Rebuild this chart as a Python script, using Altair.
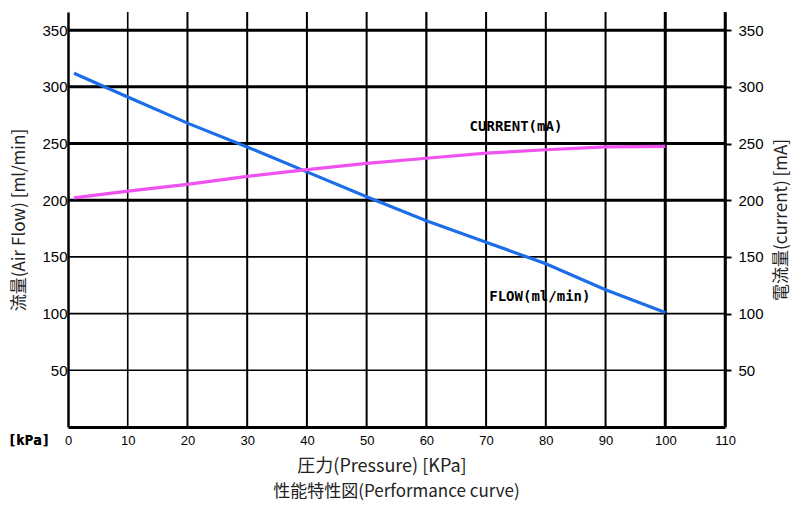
import altair as alt
import pandas as pd

# ---- data ----
pressure = [1, 10, 20, 30, 40, 50, 60, 70, 80, 90, 100]
flow = [312, 291, 268, 247, 225, 203, 182, 163, 144, 121, 101]
current = [202, 208, 214, 221, 227, 232.5, 237, 241.5, 244.5, 247, 247.5]

y_ticks = [50, 100, 150, 200, 250, 300, 350]
y_grid_w = [1.6, 1.6, 1.6, 3, 3, 3, 3]
x_ticks = [0, 10, 20, 30, 40, 50, 60, 70, 80, 90, 100, 110]
x_grid = [10, 20, 30, 40, 50, 60, 70, 80, 90, 100, 110]
x_grid_w = [1.6, 2, 2, 2, 2, 2.2, 2, 2, 2, 3, 2.5]

labels = ["CURRENT(mA)", "FLOW(ml/min)"]
label_x = [75, 79]
label_y = [265, 115]

W, H = 657, 415
YMAX = 366
CJK = "Noto Sans CJK JP"

xs = alt.Scale(domain=[0, 110], nice=False, zero=False)
ys = alt.Scale(domain=[0, YMAX], nice=False, zero=False)

df = pd.DataFrame({"p": pressure * 2,
                   "v": flow + current,
                   "s": ["flow"] * len(pressure) + ["current"] * len(pressure)})
hgrid = pd.DataFrame({"y": y_ticks, "w": y_grid_w})
vgrid = pd.DataFrame({"x": x_grid, "w": x_grid_w})
lab = pd.DataFrame({"t": labels, "x": label_x, "y": label_y})

left_axis = alt.Axis(values=y_ticks, grid=False, ticks=False, labelPadding=1,
                     labelFont="Liberation Sans", labelFontSize=15, labelColor="#000",
                     domainColor="#000", domainWidth=2.5,
                     title="流量(Air Flow) [ml/min]", titleFont=CJK, titleFontSize=17,
                     titleFontWeight="normal", titleColor="#222", titlePadding=13)
right_axis = alt.Axis(orient="right", values=y_ticks, grid=False, ticks=True, tickSize=6,
                      tickColor="#000", tickWidth=2, labelPadding=7,
                      labelFont="Liberation Sans", labelFontSize=15, labelColor="#000",
                      domainColor="#000", domainWidth=2.5,
                      title="電流量(current) [mA]", titleFont=CJK, titleFontSize=17,
                      titleFontWeight="normal", titleColor="#222", titlePadding=27,
                      titleAngle=270)
x_axis = alt.Axis(values=x_ticks, grid=False, ticks=False, labelPadding=7,
                  labelFont="Liberation Sans", labelFontSize=13, labelColor="#000",
                  domainColor="#000", domainWidth=3, labelFlush=False,
                  title="圧力(Pressure) [KPa]", titleFont=CJK, titleFontSize=18,
                  titleFontWeight="normal", titleColor="#222", titlePadding=10,
                  titleX=W / 2 - 15)

hrules = alt.Chart(hgrid).mark_rule(color="#000").encode(
    y=alt.Y("y:Q", scale=ys, axis=left_axis),
    x=alt.value(0), x2=alt.value(W),
    strokeWidth=alt.StrokeWidth("w:Q", scale=None),
)
vrules = alt.Chart(vgrid).mark_rule(color="#000").encode(
    x=alt.X("x:Q", scale=xs, axis=x_axis),
    y=alt.value(0), y2=alt.value(H),
    strokeWidth=alt.StrokeWidth("w:Q", scale=None),
)
lines = alt.Chart(df).mark_line(strokeWidth=3.2).encode(
    x=alt.X("p:Q", scale=xs),
    y=alt.Y("v:Q", scale=ys),
    color=alt.Color("s:N", scale=alt.Scale(domain=["flow", "current"],
                                           range=["#1c6ee8", "#f052f0"]), legend=None),
)
texts = alt.Chart(lab).mark_text(font="DejaVu Sans Mono", fontWeight="bold",
                                 fontSize=14, color="#000").encode(
    x=alt.X("x:Q", scale=xs), y=alt.Y("y:Q", scale=ys), text="t:N")
unit = alt.Chart(lab).mark_text(font="DejaVu Sans Mono", fontWeight="bold",
                                fontSize=14, color="#000", baseline="middle").encode(
    x=alt.value(-39), y=alt.value(H + 14), text=alt.value("[kPa]"))

left = alt.layer(vrules, hrules, lines, texts, unit)
right = alt.Chart(hgrid).mark_rule(opacity=0).encode(
    y=alt.Y("y:Q", scale=ys, axis=right_axis),
    x=alt.value(0), x2=alt.value(W),
)

chart = alt.layer(left, right).resolve_scale(y="independent").properties(
    width=W, height=H,
    autosize=alt.AutoSizeParams(type="none"),
    padding={"left": 60, "top": 4, "right": 67, "bottom": 85},
    title=alt.TitleParams("性能特性図(Performance curve)", orient="bottom",
                          font=CJK, fontSize=17, fontWeight="normal",
                          color="#222", offset=9),
).configure_view(stroke=None)

chart.save("out.html", embed_options={"renderer": "svg", "actions": False})
